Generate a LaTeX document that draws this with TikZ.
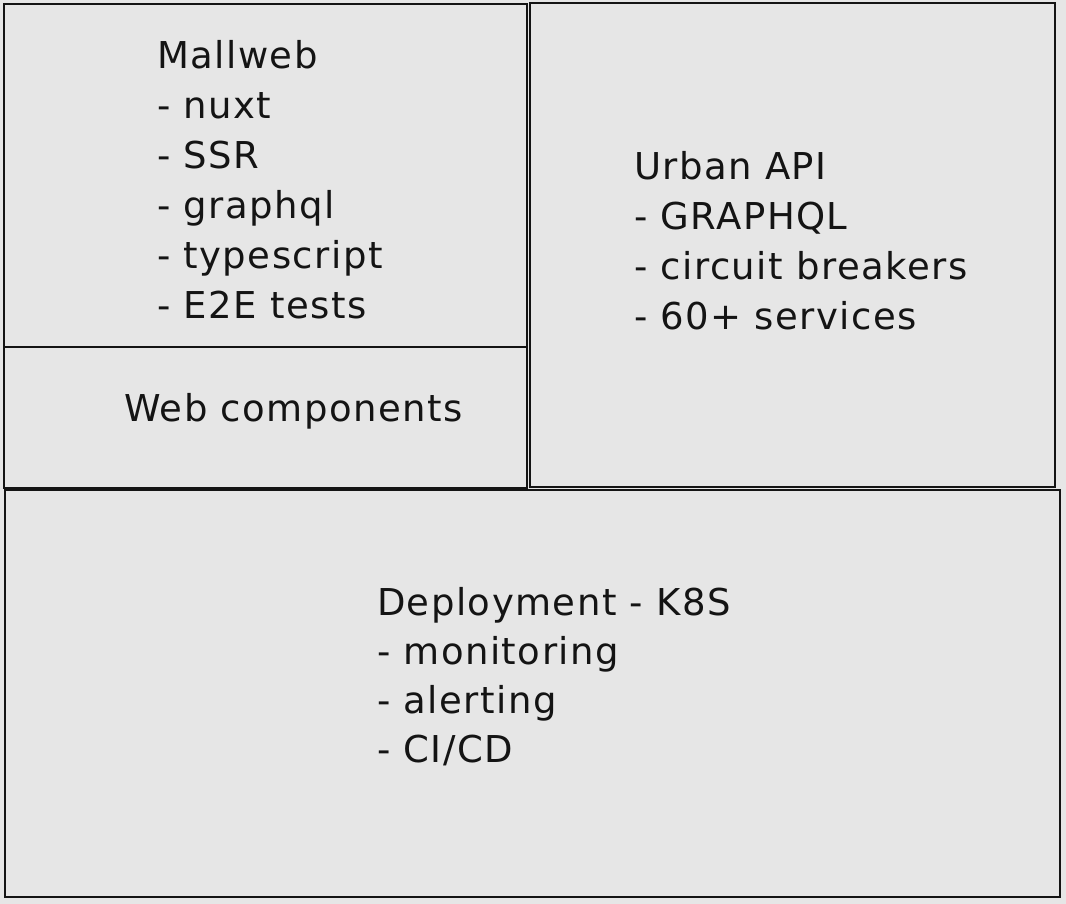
\documentclass[tikz,border=0pt]{standalone}
\usepackage{fontspec}
\setmainfont[LetterSpace=4]{DejaVu Sans}
\begin{document}
\begin{tikzpicture}[x=1pt,y=-1pt,
  box/.style={draw=ink, line width=2.8pt, inner sep=0pt, outer sep=0pt, anchor=north west},
  label/.style={inner sep=0pt, outer sep=0pt, text=ink, align=left,
    font=\fontsize{37}{50}\selectfont}]
\definecolor{bg}{HTML}{E6E6E6}
\definecolor{ink}{HTML}{141414}
\fill[bg] (0,0) rectangle (1066,904);
\useasboundingbox (0,0) rectangle (1066,904);
% boxes
\node[box, minimum width=523pt, minimum height=484pt] (left) at (4,4) {};
\node[box, minimum width=525pt, minimum height=484pt] (right) at (530,3) {};
\node[box, minimum width=1055pt, minimum height=407pt] (bottom) at (5,490) {};
\coordinate (divl) at (4,347);
\coordinate (divr) at (527,347);
\draw[draw=ink, line width=2pt] (divl) -- (divr);
% texts
\node[label, anchor=north west] (mall) at (157,40)
  {Mallweb\\- nuxt\\- SSR\\- graphql\\- typescript\\- E2E tests};
\node[label, anchor=base west] (web) at (124,421) {Web components};
\node[label, anchor=north west] (urban) at (634,151)
  {Urban API\\- GRAPHQL\\- circuit breakers\\- 60+ services};
\node[label, anchor=north west, font=\fontsize{37}{49}\selectfont] (deploy) at (377,587)
  {Deployment - K8S\\- monitoring\\- alerting\\- CI/CD};
\end{tikzpicture}
\end{document}
